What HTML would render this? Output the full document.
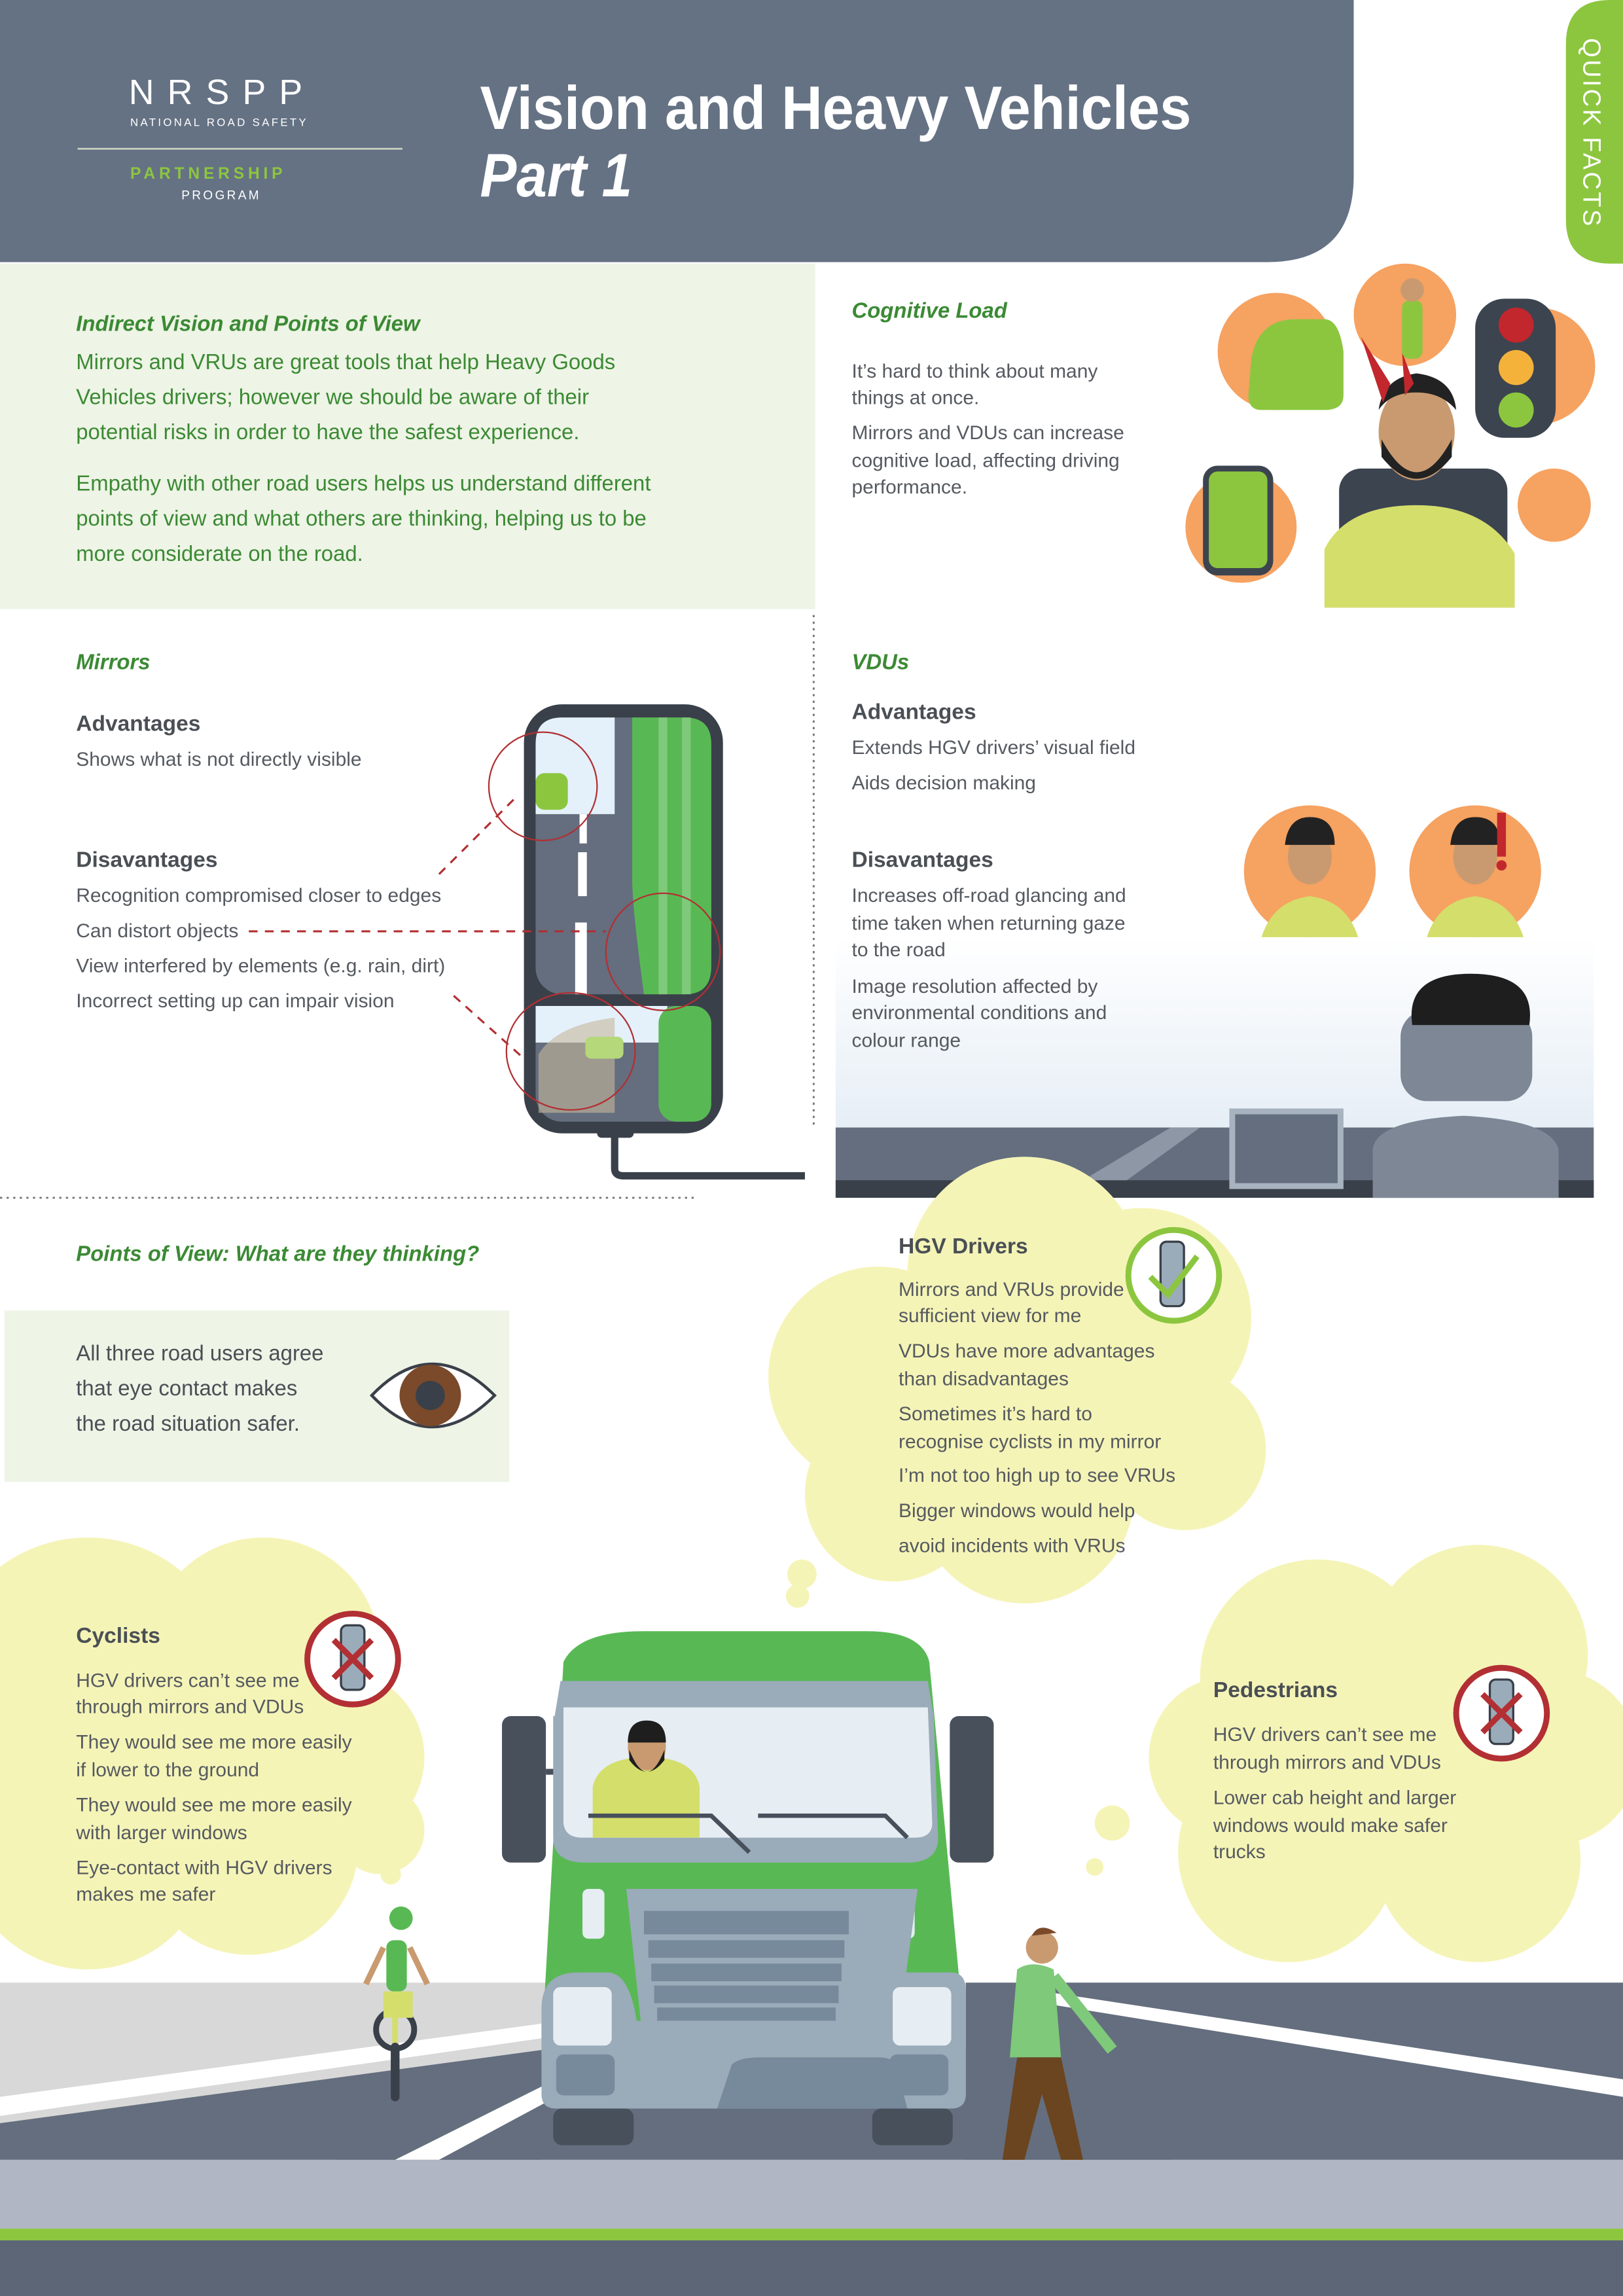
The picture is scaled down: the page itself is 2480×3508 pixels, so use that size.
<!DOCTYPE html>
<html><head><meta charset="utf-8"><style>
html,body{margin:0;padding:0;background:#fff}
svg{display:block}
text{font-family:"Liberation Sans",sans-serif}
.g{fill:#3b8a34;font-size:14.7px}
.h{fill:#3b8a34;font-size:14.7px;font-weight:bold;font-style:italic}
.b{fill:#555a60;font-size:13.4px}
.k{fill:#4a4f55;font-size:15px;font-weight:bold}
</style></head><body>
<svg width="2480" height="3508" viewBox="0 0 1109 1568" preserveAspectRatio="none" xmlns="http://www.w3.org/2000/svg">
<!-- header -->
<path d="M0 0H925V120Q925 179 866 179H0Z" fill="#657284"/>
<path d="M1109 0H1100Q1070 0 1070 30V150Q1070 180 1100 180H1109Z" fill="#8cc63f"/>
<text transform="translate(1082,26) rotate(90)" fill="#fff" font-size="17" letter-spacing="1.5">QUICK FACTS</text>
<text x="88" y="71" fill="#fff" font-size="24" letter-spacing="9">NRSPP</text>
<text x="89" y="86" fill="#fff" font-size="7.5" letter-spacing="1.5">NATIONAL ROAD SAFETY</text>
<rect x="53" y="101" width="222" height="1.2" fill="#c9d2c0"/>
<text x="89" y="122" fill="#8cc63f" font-size="11" font-weight="bold" letter-spacing="2.6">PARTNERSHIP</text>
<text x="124" y="136" fill="#fff" font-size="8.5" letter-spacing="1.5">PROGRAM</text>
<text x="328" y="88" fill="#fff" font-size="42" font-weight="bold" textLength="486" lengthAdjust="spacingAndGlyphs">Vision and Heavy Vehicles</text>
<text x="328" y="134" fill="#fff" font-size="42" font-weight="bold" font-style="italic" textLength="104" lengthAdjust="spacingAndGlyphs">Part 1</text>

<!-- intro panel -->
<rect x="0" y="180" width="557" height="236" fill="#eef4e6"/>
<text x="52" y="226" class="h">Indirect Vision and Points of View</text>
<text x="52" y="252" class="g">Mirrors and VRUs are great tools that help Heavy Goods</text>
<text x="52" y="276" class="g">Vehicles drivers; however we should be aware of their</text>
<text x="52" y="300" class="g">potential risks in order to have the safest experience.</text>
<text x="52" y="335" class="g">Empathy with other road users helps us understand different</text>
<text x="52" y="359" class="g">points of view and what others are thinking, helping us to be</text>
<text x="52" y="383" class="g">more considerate on the road.</text>

<!-- cognitive load -->
<text x="582" y="217" class="h">Cognitive Load</text>
<text x="582" y="258" class="b">It’s hard to think about many</text>
<text x="582" y="276" class="b">things at once.</text>
<text x="582" y="300" class="b">Mirrors and VDUs can increase</text>
<text x="582" y="319" class="b">cognitive load, affecting driving</text>
<text x="582" y="337" class="b">performance.</text>
<g fill="#f6a261">
<circle cx="872" cy="240" r="40"/><circle cx="960" cy="215" r="35"/><circle cx="848" cy="360" r="38"/><circle cx="1062" cy="345" r="25"/><circle cx="1050" cy="250" r="40"/>
</g>
<rect x="1008" y="204" width="55" height="95" rx="20" fill="#3c4450"/>
<circle cx="1036" cy="222" r="12" fill="#c1272d"/><circle cx="1036" cy="251" r="12" fill="#f4b23b"/><circle cx="1036" cy="280" r="12" fill="#8cc63f"/>
<path d="M855 245Q860 218 885 218H905Q915 218 918 240V270Q918 280 905 280H862Q853 280 853 270Z" fill="#8cc63f"/>
<rect x="822" y="318" width="48" height="75" rx="10" fill="#3c4450"/><rect x="826" y="322" width="40" height="66" rx="6" fill="#8cc63f"/>
<rect x="915" y="320" width="115" height="95" rx="15" fill="#3c4450"/>
<path d="M905 375Q920 345 968 345Q1015 345 1035 378V415H905Z" fill="#d4de6b"/>
<ellipse cx="968" cy="295" rx="26" ry="33" fill="#c99a70"/>
<path d="M944 300Q968 345 992 300L992 312Q968 342 944 312Z" fill="#222"/>
<path d="M942 280Q945 258 968 255Q993 258 995 280Q985 268 968 268Q950 268 942 280Z" fill="#222"/>
<path d="M930 230L945 275L950 262Z M958 240L960 270L966 262Z" fill="#c1272d"/>
<rect x="958" y="205" width="14" height="40" rx="5" fill="#8cc63f"/><circle cx="965" cy="198" r="8" fill="#c99a70"/>
<circle cx="1065" cy="345" r="0"/>

<!-- divider -->
<line x1="556" y1="420" x2="556" y2="768" stroke="#777" stroke-width="1.3" stroke-dasharray="1.5,3"/>
<line x1="0" y1="818" x2="475" y2="818" stroke="#777" stroke-width="1.3" stroke-dasharray="1.5,3"/>

<!-- mirrors -->
<text x="52" y="457" class="h">Mirrors</text>
<text x="52" y="499" class="k">Advantages</text>
<text x="52" y="523" class="b">Shows what is not directly visible</text>
<text x="52" y="592" class="k">Disavantages</text>
<text x="52" y="616" class="b">Recognition compromised closer to edges</text>
<text x="52" y="640" class="b">Can distort objects</text>
<text x="52" y="664" class="b">View interfered by elements (e.g. rain, dirt)</text>
<text x="52" y="688" class="b">Incorrect setting up can impair vision</text>
<g>
<path d="M420 772V798Q420 803 426 803H550" fill="none" stroke="#3a4049" stroke-width="5"/>
<rect x="408" y="765" width="25" height="12" rx="3" fill="#3a4049"/>
<rect x="358" y="481" width="136" height="293" rx="26" fill="#3a4049"/>
<rect x="366" y="490" width="120" height="189" rx="18" fill="#646e7e"/>
<path d="M384 490H420V556H366V508Q366 490 384 490Z" fill="#e4f1fb"/>
<path d="M432 490H468Q486 490 486 508V660Q486 679 468 679H440Q432 620 432 600Z" fill="#58b954"/>
<rect x="450" y="490" width="6" height="189" fill="#7fc97a"/><rect x="466" y="490" width="6" height="189" fill="#7fc97a"/>
<rect x="396" y="556" width="5" height="20" fill="#fff"/><rect x="395" y="582" width="6" height="30" fill="#fff"/><rect x="393" y="630" width="8" height="49" fill="#fff"/>
<rect x="366" y="528" width="22" height="25" rx="6" fill="#8cc63f"/>
<rect x="366" y="687" width="120" height="79" rx="18" fill="#646e7e"/>
<rect x="366" y="687" width="90" height="25" fill="#e4f1fb"/>
<rect x="450" y="687" width="36" height="79" rx="12" fill="#58b954"/>
<path d="M368 720Q380 700 420 695L420 760L368 760Z" fill="#c7b89c" opacity="0.6"/>
<rect x="400" y="708" width="26" height="15" rx="4" fill="#b4d87a"/>
<g fill="none" stroke="#b22f33" stroke-width="1"><circle cx="371" cy="537" r="37"/><ellipse cx="453" cy="650" rx="39" ry="40"/><ellipse cx="390" cy="718" rx="44" ry="40"/></g>
<g stroke="#b22f33" stroke-width="1.4" stroke-dasharray="6,5"><line x1="300" y1="597" x2="352" y2="545"/><line x1="170" y1="636" x2="414" y2="636"/><line x1="310" y1="680" x2="357" y2="722"/></g>
</g>

<!-- VDU scene -->
<defs><linearGradient id="sky" x1="0" y1="0" x2="0" y2="1"><stop offset="0" stop-color="#fff"/><stop offset="1" stop-color="#e6eef6"/></linearGradient></defs>
<rect x="571" y="640" width="518" height="130" fill="url(#sky)"/>
<rect x="571" y="770" width="518" height="48" fill="#646e7e"/>
<rect x="571" y="806" width="518" height="12" fill="#3a4049"/>
<path d="M740 806L800 770L820 770L770 806Z" fill="#8e97a5"/>
<rect x="840" y="757" width="78" height="55" fill="#a8b3c0"/><rect x="844" y="761" width="70" height="47" fill="#646e7e"/>
<path d="M938 818V785Q940 765 1000 762Q1060 765 1065 785V818Z" fill="#7d8796"/>
<rect x="957" y="690" width="90" height="62" rx="18" fill="#7d8796"/>
<path d="M965 700Q960 665 1005 665Q1050 665 1045 700Z" fill="#1e1e1e"/>
<circle cx="895" cy="595" r="45" fill="#f6a261"/><circle cx="1008" cy="595" r="45" fill="#f6a261"/>
<path d="M862 640Q870 615 895 612Q920 615 928 640Z M975 640Q983 615 1008 612Q1033 615 1041 640Z" fill="#d4de6b"/>
<ellipse cx="895" cy="585" rx="15" ry="19" fill="#c99a70"/><ellipse cx="1008" cy="585" rx="15" ry="19" fill="#c99a70"/>
<path d="M878 577Q880 558 895 558Q912 558 912 577Z M991 577Q993 558 1008 558Q1025 558 1025 577Z" fill="#222"/>
<rect x="1023" y="555" width="6" height="30" fill="#c1272d"/><circle cx="1026" cy="591" r="3.5" fill="#c1272d"/>

<!-- VDUs text -->
<text x="582" y="457" class="h">VDUs</text>
<text x="582" y="491" class="k">Advantages</text>
<text x="582" y="515" class="b">Extends HGV drivers’ visual field</text>
<text x="582" y="539" class="b">Aids decision making</text>
<text x="582" y="592" class="k">Disavantages</text>
<text x="582" y="616" class="b">Increases off-road glancing and</text>
<text x="582" y="635" class="b">time taken when returning gaze</text>
<text x="582" y="653" class="b">to the road</text>
<text x="582" y="678" class="b">Image resolution affected by</text>
<text x="582" y="696" class="b">environmental conditions and</text>
<text x="582" y="715" class="b">colour range</text>

<!-- points of view -->
<text x="52" y="861" class="h">Points of View: What are they thinking?</text>
<rect x="3" y="895" width="345" height="117" fill="#eef4e6"/>
<text x="52" y="929" style="fill:#4a4f55;font-size:14.7px">All three road users agree</text>
<text x="52" y="953" style="fill:#4a4f55;font-size:14.7px">that eye contact makes</text>
<text x="52" y="977" style="fill:#4a4f55;font-size:14.7px">the road situation safer.</text>
<path d="M254 953Q295 910 338 953Q295 996 254 953Z" fill="#fff" stroke="#3a4049" stroke-width="2"/>
<circle cx="294" cy="953" r="21" fill="#7b4a2a"/><circle cx="294" cy="953" r="10" fill="#3a4049"/>

<!-- clouds -->
<g fill="#f5f4b7">
<circle cx="600" cy="940" r="75"/><circle cx="700" cy="870" r="80"/><circle cx="780" cy="900" r="75"/><circle cx="810" cy="990" r="55"/><circle cx="700" cy="1020" r="75"/><circle cx="610" cy="1020" r="60"/><circle cx="700" cy="950" r="100"/>
<circle cx="548" cy="1075" r="10"/><circle cx="545" cy="1090" r="8"/>
<circle cx="60" cy="1150" r="100"/><circle cx="180" cy="1130" r="80"/><circle cx="230" cy="1200" r="60"/><circle cx="170" cy="1260" r="75"/><circle cx="60" cy="1260" r="85"/><circle cx="260" cy="1250" r="30"/>
<circle cx="267" cy="1280" r="7"/>
<circle cx="900" cy="1145" r="80"/><circle cx="1010" cy="1130" r="75"/><circle cx="1060" cy="1200" r="60"/><circle cx="1010" cy="1270" r="70"/><circle cx="880" cy="1265" r="75"/><circle cx="840" cy="1200" r="55"/><circle cx="950" cy="1210" r="90"/>
<circle cx="760" cy="1245" r="12"/><circle cx="748" cy="1275" r="6"/>
</g>
<text x="614" y="856" class="k">HGV Drivers</text>
<text x="614" y="885" class="b">Mirrors and VRUs provide</text>
<text x="614" y="903" class="b">sufficient view for me</text>
<text x="614" y="927" class="b">VDUs have more advantages</text>
<text x="614" y="946" class="b">than disadvantages</text>
<text x="614" y="970" class="b">Sometimes it’s hard to</text>
<text x="614" y="989" class="b">recognise cyclists in my mirror</text>
<text x="614" y="1012" class="b">I’m not too high up to see VRUs</text>
<text x="614" y="1036" class="b">Bigger windows would help</text>
<text x="614" y="1060" class="b">avoid incidents with VRUs</text>
<circle cx="802" cy="871" r="31" fill="#fff" stroke="#8cc63f" stroke-width="4"/>
<rect x="793" y="848" width="16" height="44" rx="4" fill="#9aabb9" stroke="#3a4049" stroke-width="1.5"/>
<path d="M786 872L798 884L818 858" fill="none" stroke="#8cc63f" stroke-width="4"/>

<text x="52" y="1122" class="k">Cyclists</text>
<text x="52" y="1152" class="b">HGV drivers can’t see me</text>
<text x="52" y="1170" class="b">through mirrors and VDUs</text>
<text x="52" y="1194" class="b">They would see me more easily</text>
<text x="52" y="1213" class="b">if lower to the ground</text>
<text x="52" y="1237" class="b">They would see me more easily</text>
<text x="52" y="1256" class="b">with larger windows</text>
<text x="52" y="1280" class="b">Eye-contact with HGV drivers</text>
<text x="52" y="1298" class="b">makes me safer</text>
<g id="xm"><circle cx="241" cy="1133" r="31" fill="#fff" stroke="#b22f33" stroke-width="4"/>
<rect x="233" y="1110" width="16" height="44" rx="4" fill="#9aabb9" stroke="#3a4049" stroke-width="1.5"/>
<path d="M228 1120L254 1146M254 1120L228 1146" stroke="#b22f33" stroke-width="4"/></g>
<use href="#xm" x="785" y="37"/>
<text x="829" y="1159" class="k">Pedestrians</text>
<text x="829" y="1189" class="b">HGV drivers can’t see me</text>
<text x="829" y="1208" class="b">through mirrors and VDUs</text>
<text x="829" y="1232" class="b">Lower cab height and larger</text>
<text x="829" y="1251" class="b">windows would make safer</text>
<text x="829" y="1269" class="b">trucks</text>

<!-- road -->
<rect x="0" y="1354" width="1109" height="121" fill="#d8d8d8"/>
<path d="M0 1450L370 1400V1475H0Z" fill="#646e7e"/>
<path d="M660 1354H1109V1475H660Z" fill="#646e7e"/>
<path d="M230 1475L380 1400L660 1400L800 1475Z" fill="#646e7e"/>
<path d="M0 1432L370 1382V1392L0 1445Z" fill="#fff"/>
<path d="M270 1475L380 1420V1432L300 1475Z" fill="#fff"/>
<path d="M700 1358L1109 1420V1432L700 1366Z" fill="#fff"/>
<rect x="0" y="1475" width="1109" height="47" fill="#b0b6c3"/>
<rect x="0" y="1522" width="1109" height="8" fill="#8cc63f"/>
<rect x="0" y="1530" width="1109" height="38" fill="#5d6677"/>

<!-- truck -->
<g>
<path d="M385 1135Q395 1114 440 1114H592Q630 1114 635 1135L660 1400H370Z" fill="#58b954"/>
<rect x="343" y="1172" width="30" height="100" rx="6" fill="#48505c"/><rect x="649" y="1172" width="30" height="100" rx="6" fill="#48505c"/>
<rect x="373" y="1208" width="10" height="4" fill="#48505c"/>
<path d="M383 1148H634L638 1172H379Z" fill="#9aabb9"/>
<path d="M378 1172H638L641 1255Q641 1272 620 1272H400Q378 1272 378 1255Z" fill="#9aabb9"/>
<path d="M385 1166H634L637 1245Q637 1255 625 1255H398Q386 1255 385 1245Z" fill="#e6edf3"/>
<path d="M405 1250V1220Q410 1200 442 1200Q474 1200 478 1220V1255H405Z" fill="#d4de6b"/>
<ellipse cx="442" cy="1193" rx="13" ry="16" fill="#c99a70"/>
<path d="M429 1190Q429 1175 442 1175Q455 1175 455 1190Z M430 1195Q442 1225 454 1195V1202Q442 1218 430 1202Z" fill="#1e1e1e"/>
<path d="M402 1240H486L512 1265M518 1240H605L620 1255" fill="none" stroke="#48505c" stroke-width="3"/>
<rect x="398" y="1290" width="15" height="34" rx="4" fill="#e6edf3"/><rect x="610" y="1290" width="15" height="34" rx="4" fill="#e6edf3"/>
<path d="M428 1290H627L612 1400H440Z" fill="#9aabb9"/>
<g fill="#778a9c"><rect x="440" y="1305" width="140" height="16"/><rect x="443" y="1325" width="134" height="12"/><rect x="445" y="1341" width="130" height="12"/><rect x="447" y="1356" width="126" height="12"/><rect x="449" y="1371" width="122" height="10"/></g>
<path d="M370 1372Q370 1347 395 1347H415Q430 1347 435 1380H590Q595 1347 610 1347H650Q660 1347 660 1360V1430Q660 1440 650 1440H380Q370 1440 370 1430Z" fill="#9aabb9"/>
<rect x="378" y="1357" width="40" height="40" rx="5" fill="#e6edf3"/><rect x="610" y="1357" width="40" height="40" rx="5" fill="#e6edf3"/>
<rect x="380" y="1403" width="40" height="28" rx="5" fill="#778a9c"/><rect x="608" y="1403" width="40" height="28" rx="5" fill="#778a9c"/>
<path d="M490 1440L500 1410Q505 1405 520 1405H600Q610 1405 612 1410L620 1440Z" fill="#778a9c"/>
<rect x="378" y="1440" width="55" height="25" rx="6" fill="#48505c"/><rect x="596" y="1440" width="55" height="25" rx="6" fill="#48505c"/>
</g>

<!-- cyclist -->
<g>
<circle cx="270" cy="1386" r="13" fill="none" stroke="#3a4049" stroke-width="4"/>
<path d="M270 1360V1430" stroke="#d4de6b" stroke-width="4"/>
<rect x="264" y="1325" width="14" height="35" rx="5" fill="#58b954"/>
<circle cx="274" cy="1310" r="8" fill="#58b954"/>
<path d="M250 1355L262 1330M292 1355L280 1330" stroke="#c99a70" stroke-width="4"/>
<rect x="262" y="1360" width="20" height="18" fill="#d4de6b"/>
<rect x="267" y="1395" width="6" height="40" rx="3" fill="#3a4049"/>
</g>
<!-- pedestrian -->
<g>
<circle cx="712" cy="1330" r="11" fill="#c99a70"/>
<path d="M705 1322Q710 1312 722 1320Z" fill="#7b4a2a"/>
<path d="M695 1345Q705 1338 720 1345L725 1405H690Z" fill="#7fc97a"/>
<path d="M720 1350L760 1400" stroke="#7fc97a" stroke-width="8"/>
<path d="M695 1405L685 1475H700L712 1430L725 1475H740L725 1405Z" fill="#6b4520"/>
</g>
</svg>
</body></html>
